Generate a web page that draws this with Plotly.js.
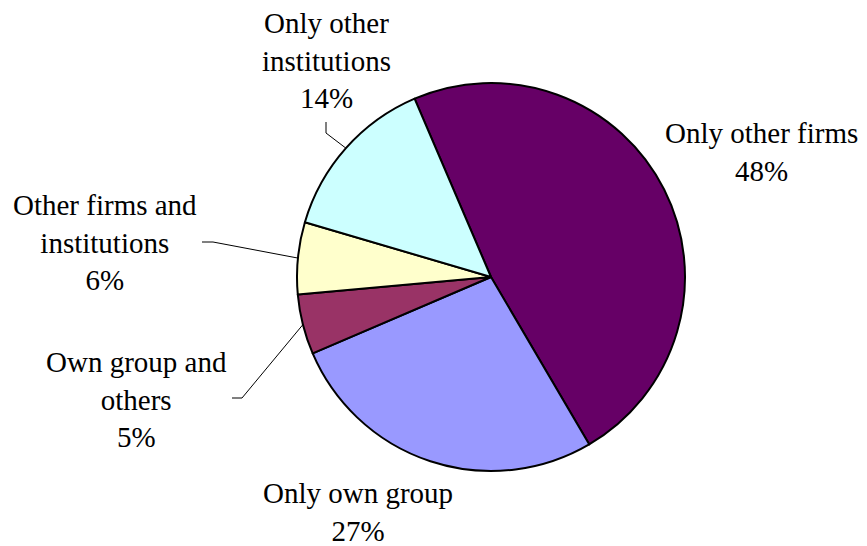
<!DOCTYPE html>
<html>
<head>
<meta charset="utf-8">
<script src="https://cdn.plot.ly/plotly-3.0.1.min.js"></script>
<style>html,body{margin:0;padding:0;background:#fff;}#chart{width:867px;height:546px;}</style>
</head>
<body>
<div id="chart"></div>
<script>
// Data
var categories = ["Only other firms", "Only own group", "Own group and others", "Other firms and institutions", "Only other institutions"];
var shares = [48, 27, 5, 6, 14];
var sliceColors = ["#660066", "#9999FF", "#993366", "#FFFFCC", "#CCFFFF"];
var labelLines = [["Only other firms"], ["Only own group"], ["Own group and", "others"], ["Other firms and", "institutions"], ["Only other", "institutions"]];

// Layout geometry (pixels)
var W = 867, H = 546;
var cx = 491, cy = 277, R = 194;
var startAngle = -23.2; // degrees clockwise from 12 o'clock
// label centres (px) and leader elbow points (px), null = no leader
var labelPos = [[761, 152], [358, 512], [136, 399], [105, 243], [326, 60]];
var elbows = [null, null, [[232, 398], [242, 398]], [[202, 242], [213, 242]], [[326, 122], [326, 133]]];
var FONT = "'Liberation Serif', 'Times New Roman', Times, serif";

function px2x(p) { return p / W; }
function px2y(p) { return 1 - p / H; }

var total = shares.reduce(function (a, b) { return a + b; }, 0);
var annotations = [];
var shapes = [];
var cum = startAngle;
for (var i = 0; i < shares.length; i++) {
  var span = shares[i] / total * 360;
  var mid = (cum + span / 2) * Math.PI / 180;
  cum += span;
  annotations.push({
    xref: "paper", yref: "paper",
    x: px2x(labelPos[i][0]), y: px2y(labelPos[i][1]),
    xanchor: "center", yanchor: "middle",
    showarrow: false, align: "center",
    text: labelLines[i].join("<br>") + "<br>" + Math.round(shares[i] / total * 100) + "%",
    font: { family: FONT, size: 29, color: "#000" }
  });
  if (elbows[i]) {
    var ex = cx + R * Math.sin(mid), ey = cy - R * Math.cos(mid);
    var e = elbows[i];
    var path = "M" + px2x(e[0][0]) + "," + px2y(e[0][1]) +
               " L" + px2x(e[1][0]) + "," + px2y(e[1][1]) +
               " L" + px2x(ex) + "," + px2y(ey);
    shapes.push({ type: "path", xref: "paper", yref: "paper", path: path, line: { color: "#000", width: 1 } });
  }
}

var trace = {
  type: "pie",
  labels: categories,
  values: shares,
  sort: false,
  direction: "clockwise",
  rotation: startAngle,
  textinfo: "none",
  hoverinfo: "label+percent",
  marker: { colors: sliceColors, line: { color: "#000", width: 2 } },
  domain: { x: [(cx - R) / W, (cx + R) / W], y: [1 - (cy + R) / H, 1 - (cy - R) / H] },
  showlegend: false
};

var layout = {
  width: W, height: H,
  margin: { l: 0, r: 0, t: 0, b: 0 },
  paper_bgcolor: "#fff",
  font: { family: FONT },
  showlegend: false,
  annotations: annotations,
  shapes: shapes
};

Plotly.newPlot("chart", [trace], layout, { displayModeBar: false, staticPlot: true });
</script>
</body>
</html>
